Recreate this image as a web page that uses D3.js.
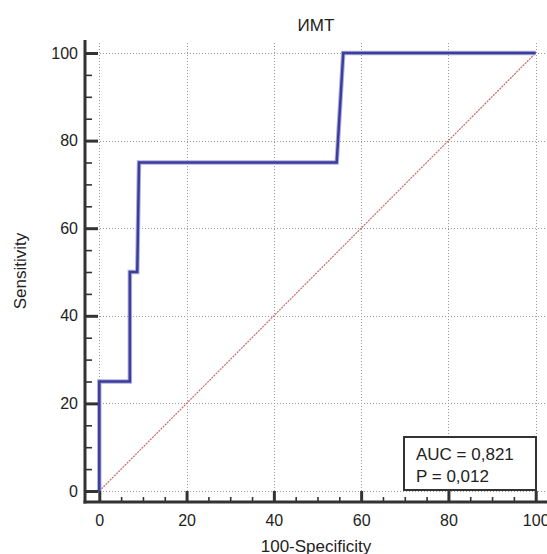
<!DOCTYPE html>
<html>
<head>
<meta charset="utf-8">
<script src="https://cdn.jsdelivr.net/npm/d3@7"></script>
<style>
body { margin: 0; background: #fff; }
text { font-family: Arial, "Liberation Sans", sans-serif; fill: #222; }
</style>
</head>
<body>
<script>
// ROC curve points: 100-Specificity, Sensitivity
var fpr = [0, 0, 7, 7, 8.7, 9.1, 54.4, 55.9, 100];
var tpr = [0, 25, 25, 50, 50, 75, 75, 100, 100];
var majorTicks = [0, 20, 40, 60, 80, 100];
var minorTicks = [5, 10, 15, 25, 30, 35, 45, 50, 55, 65, 70, 75, 85, 90, 95];
var title = "ИМТ";
var legendLines = ["AUC = 0,821", "P = 0,012"];

var w = 547, h = 554;
var frame = {left: 85, right: 547, top: 40, bottom: 502};

var svg = d3.select("body").append("svg").attr("width", w).attr("height", h);

var x = d3.scaleLinear().domain([0, 100]).range([99.3, 535.7]);
var y = d3.scaleLinear().domain([0, 100]).range([491, 53]);

// grid
var grid = svg.append("g").attr("stroke", "#999").attr("stroke-width", 1).attr("stroke-dasharray", "1,2");
grid.selectAll(".gx").data(majorTicks).enter().append("line")
  .attr("x1", d => Math.round(x(d)) + 0.5).attr("x2", d => Math.round(x(d)) + 0.5)
  .attr("y1", frame.top + 3).attr("y2", frame.bottom);
grid.selectAll(".gy").data(majorTicks).enter().append("line")
  .attr("y1", d => Math.round(y(d)) + 0.5).attr("y2", d => Math.round(y(d)) + 0.5)
  .attr("x1", frame.left).attr("x2", frame.right);

// diagonal reference
svg.append("line")
  .attr("x1", x(0)).attr("y1", y(0)).attr("x2", x(100)).attr("y2", y(100))
  .attr("stroke", "#c86a6a").attr("stroke-width", 1.2).attr("stroke-dasharray", "2,1");

// ROC curve
var pts = fpr.map((d, i) => [d, tpr[i]]);
var line = d3.line().x(d => x(d[0])).y(d => y(d[1]));
svg.append("path").datum(pts).attr("d", line)
  .attr("fill", "none").attr("stroke", "#aeb0dc").attr("stroke-width", 4.5).attr("stroke-linejoin", "miter");
svg.append("path").datum(pts).attr("d", line)
  .attr("fill", "none").attr("stroke", "#3c3d9c").attr("stroke-width", 2.5).attr("stroke-linejoin", "miter");

// axes
var yAxis = svg.append("g").attr("transform", `translate(${frame.left},0)`)
  .call(d3.axisLeft(y).tickValues(majorTicks).tickSizeInner(-13).tickSizeOuter(0).tickPadding(7));
svg.append("g").attr("transform", `translate(${frame.left},0)`)
  .call(d3.axisLeft(y).tickValues(minorTicks).tickSizeInner(-7).tickSizeOuter(0).tickFormat(""));
var xAxis = svg.append("g").attr("transform", `translate(0,${frame.bottom})`)
  .call(d3.axisBottom(x).tickValues(majorTicks).tickSizeInner(-11).tickSizeOuter(0).tickPadding(13));
svg.append("g").attr("transform", `translate(0,${frame.bottom})`)
  .call(d3.axisBottom(x).tickValues(minorTicks).tickSizeInner(-5).tickSizeOuter(0).tickFormat(""));

svg.selectAll(".domain").remove();
svg.selectAll(".tick line").attr("stroke", "#333").attr("stroke-width", 1.6);
yAxis.selectAll(".tick line").attr("stroke-width", 3);
xAxis.selectAll(".tick line").attr("stroke-width", 3);
svg.selectAll(".tick text").attr("font-size", 16).attr("fill", "#222")
  .style("font-family", "Arial, 'Liberation Sans', sans-serif");

svg.append("line").attr("x1", frame.left).attr("x2", frame.left)
  .attr("y1", frame.top).attr("y2", frame.bottom + 1.5)
  .attr("stroke", "#333").attr("stroke-width", 3);
svg.append("line").attr("x1", frame.left - 1.5).attr("x2", frame.right)
  .attr("y1", frame.bottom).attr("y2", frame.bottom)
  .attr("stroke", "#333").attr("stroke-width", 3);

// labels
svg.append("text").attr("x", 316).attr("y", 31).attr("text-anchor", "middle")
  .attr("font-size", 17).text(title);
svg.append("text").attr("x", 316).attr("y", 552).attr("text-anchor", "middle")
  .attr("font-size", 17).text("100-Specificity");
svg.append("text").attr("transform", "translate(26,271) rotate(-90)").attr("text-anchor", "middle")
  .attr("font-size", 17).text("Sensitivity");

// legend box
var lg = svg.append("g");
lg.append("rect").attr("x", 404).attr("y", 437).attr("width", 132).attr("height", 53)
  .attr("fill", "#fff").attr("stroke", "#333").attr("stroke-width", 2);
lg.selectAll("text").data(legendLines).enter().append("text")
  .attr("x", 416).attr("y", (d, i) => 460 + i * 22)
  .attr("font-size", 17).text(d => d);
</script>
</body>
</html>
